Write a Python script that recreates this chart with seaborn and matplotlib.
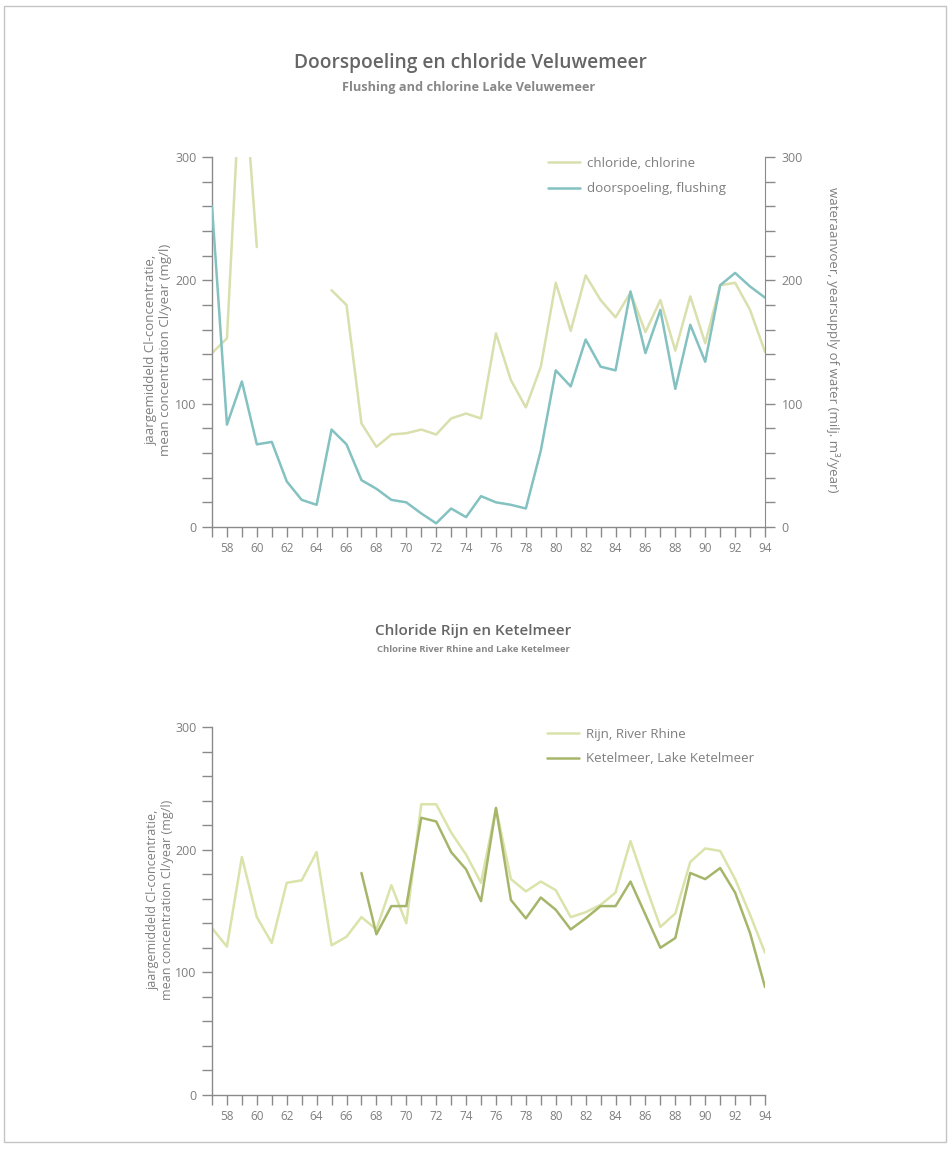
import numpy as np
import pandas as pd
import matplotlib
matplotlib.use("Agg")
import matplotlib.pyplot as plt
from matplotlib.lines import Line2D
from matplotlib.patches import Rectangle
import seaborn as sns

# ---------------- data ----------------
years = list(range(1957, 1995))
tick_years = list(range(1958, 1995, 2))
tick_labels = [str(y)[2:] for y in tick_years]

# Veluwemeer chloride (mg/l); NaN = no data
chloride = [141, 153, 390, 227, np.nan, np.nan, np.nan, np.nan,
            192, 180, 84, 65, 75, 76, 79, 75, 88, 92, 88, 157,
            119, 97, 130, 198, 159, 204, 184, 170, 190, 158, 184, 143,
            187, 149, 196, 198, 176, 142]
# Veluwemeer flushing (milj. m3/year)
flushing = [260, 83, 118, 67, 69, 37, 22, 18, 79, 67, 38, 31, 22, 20,
            11, 3, 15, 8, 25, 20, 18, 15, 62, 127, 114, 152, 130, 127,
            191, 141, 176, 112, 164, 134, 196, 206, 195, 186]

# Rhine chloride (mg/l)
rijn = [136, 121, 194, 145, 124, 173, 175, 198, 122, 129, 145, 135,
        171, 140, 237, 237, 214, 196, 173, 234, 176, 166, 174, 167,
        145, 149, 155, 165, 207, 171, 137, 148, 190, 201, 199, 176,
        147, 116]
# Lake Ketelmeer chloride (mg/l), from 1967
ketel_years = list(range(1967, 1995))
ketelmeer = [181, 131, 154, 154, 226, 223, 198, 184, 158, 234, 159,
             144, 161, 151, 135, 144, 154, 154, 174, 147, 120, 128,
             181, 176, 185, 165, 132, 88]

title1 = "Doorspoeling en chloride Veluwemeer"
sub1 = "Flushing and chlorine Lake Veluwemeer"
title2 = "Chloride Rijn en Ketelmeer"
sub2 = "Chlorine River Rhine and Lake Ketelmeer"
ylab_left = "jaargemiddeld Cl-concentratie,\nmean concentration Cl/year (mg/l)"
ylab_right = "wateraanvoer, yearsupply of water (milj. m\u00b3/year)"
leg1 = ["chloride, chlorine", "doorspoeling, flushing"]
leg2 = ["Rijn, River Rhine", "Ketelmeer, Lake Ketelmeer"]

# ---------------- style ----------------
sns.set_style("ticks")
plt.rcParams["font.family"] = ["Open Sans", "DejaVu Sans"]

C_CHL = "#dadfae"
C_FLU = "#84c1c1"
C_RIJN = "#dbe3aa"
C_KET = "#a5b66a"
AX_C = "#8a8a8a"
TXT_C = "#7f7f7f"

W, H = 952, 1150
fig = plt.figure(figsize=(W / 100, H / 100), dpi=100)
fig.patch.set_facecolor("white")
fig.add_artist(Rectangle((4 / W, 8 / H), 942 / W, 1136 / H, transform=fig.transFigure,
                         fill=False, edgecolor="#c4c4c4", linewidth=1.0))

def style_axis(ax):
    ax.set_xlim(1957, 1994)
    ax.set_ylim(0, 300)
    for s in ["top", "right"]:
        ax.spines[s].set_visible(False)
    for s in ["left", "bottom"]:
        ax.spines[s].set_color(AX_C)
        ax.spines[s].set_linewidth(1.0)
    ax.set_xticks(years, minor=True)
    ax.set_xticks(tick_years)
    ax.set_xticklabels(tick_labels)
    ax.set_yticks([0, 100, 200, 300])
    ax.set_yticks(np.arange(0, 301, 20), minor=True)
    ax.tick_params(axis="both", which="both", direction="out", length=7, width=1,
                   color=AX_C, labelcolor=TXT_C, bottom=True, left=True)
    ax.tick_params(axis="x", which="major", pad=4, labelsize=8.5)
    ax.tick_params(axis="y", which="major", pad=4, labelsize=9)
    ax.set_xlabel("")
    ax.grid(False)

# ---------------- top chart ----------------
ax1 = fig.add_axes([212 / W, 1 - 527 / H, 553 / W, 370 / H])
df_chl = pd.DataFrame({"year": years, "value": chloride})
df_chl["seg"] = np.where(df_chl["year"] < 1962, 0, 1)
df_chl = df_chl.dropna()
sns.lineplot(data=df_chl, x="year", y="value", units="seg", estimator=None,
             color=C_CHL, linewidth=1.8, ax=ax1, legend=False)
style_axis(ax1)
ax1.set_ylabel(ylab_left, color=TXT_C, fontsize=9.5, va="center", linespacing=1.1)
ax1.yaxis.set_label_coords((158 - 212) / 553, 0.48)

ax2 = ax1.twinx()
df_flu = pd.DataFrame({"year": years, "value": flushing})
sns.lineplot(data=df_flu, x="year", y="value", color=C_FLU, linewidth=1.8,
             ax=ax2, legend=False)
ax2.set_ylim(0, 300)
ax2.set_xlim(1957, 1994)
for s in ["top", "left", "bottom"]:
    ax2.spines[s].set_visible(False)
ax2.spines["right"].set_color(AX_C)
ax2.set_yticks([0, 100, 200, 300])
ax2.set_yticks(np.arange(0, 301, 20), minor=True)
ax2.tick_params(axis="y", which="both", direction="out", length=7, width=1,
                color=AX_C, labelcolor=TXT_C, labelsize=9, pad=5, right=True)
ax2.set_ylabel(ylab_right, color=TXT_C, fontsize=9.5, rotation=270, va="center")
ax2.yaxis.set_label_coords((833 - 212) / 553, 0.505)
ax2.grid(False)

h1 = [Line2D([], [], color=C_CHL, lw=1.8), Line2D([], [], color=C_FLU, lw=1.8)]
ax1.legend(h1, leg1, loc="upper left", bbox_to_anchor=(0.608, 1.0), frameon=False,
           fontsize=9.6, labelcolor=TXT_C, handlelength=2.4, handletextpad=0.5,
           labelspacing=0.92, borderpad=0, borderaxespad=0)

fig.text(470 / W, 1 - 63 / H, title1, ha="center", va="center", fontsize=13.8,
         fontweight="semibold", color="#666666")
fig.text(469 / W, 1 - 87 / H, sub1, ha="center", va="center", fontsize=9.2,
         fontweight="bold", color="#888888")

# ---------------- bottom chart ----------------
ax3 = fig.add_axes([212 / W, 1 - 1095 / H, 553 / W, 368 / H])
df_rijn = pd.DataFrame({"year": years, "value": rijn})
df_ket = pd.DataFrame({"year": ketel_years, "value": ketelmeer})
sns.lineplot(data=df_rijn, x="year", y="value", color=C_RIJN, linewidth=1.8,
             ax=ax3, legend=False)
sns.lineplot(data=df_ket, x="year", y="value", color=C_KET, linewidth=1.8,
             ax=ax3, legend=False)
style_axis(ax3)
ax3.set_ylabel(ylab_left, color=TXT_C, fontsize=9, va="center", linespacing=1.1)
ax3.yaxis.set_label_coords((160 - 212) / 553, 0.53)

h2 = [Line2D([], [], color=C_RIJN, lw=1.8), Line2D([], [], color=C_KET, lw=1.8)]
ax3.legend(h2, leg2, loc="upper left", bbox_to_anchor=(0.606, 0.997), frameon=False,
           fontsize=9.6, labelcolor=TXT_C, handlelength=2.4, handletextpad=0.5,
           labelspacing=0.85, borderpad=0, borderaxespad=0)

fig.text(473 / W, 1 - 631 / H, title2, ha="center", va="center", fontsize=11,
         fontweight="semibold", color="#666666")
fig.text(473 / W, 1 - 650 / H, sub2, ha="center", va="center", fontsize=6.8,
         fontweight="bold", color="#888888")

fig.savefig("out.png", dpi=100, facecolor="white")
